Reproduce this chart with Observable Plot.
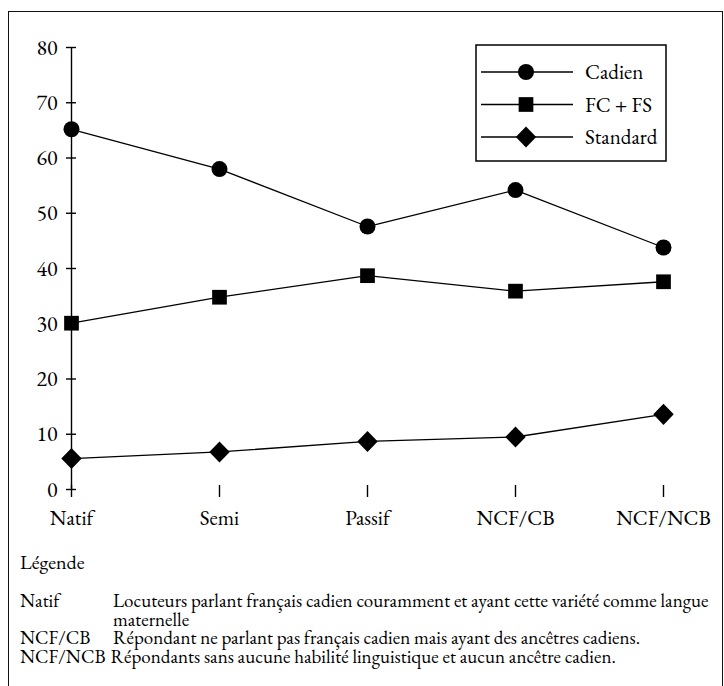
<!DOCTYPE html>
<html><head><meta charset="utf-8">
<script src="https://cdn.jsdelivr.net/npm/d3@7"></script>
<script src="https://cdn.jsdelivr.net/npm/@observablehq/plot@0.6"></script>
<style>
body{margin:0;background:#fff;}
#wrap{position:relative;width:724px;height:686px;overflow:hidden;font-family:"EB Garamond","Liberation Serif",serif;color:#000;background:#fff;font-variant-numeric:lining-nums;}
#frame{position:absolute;left:8px;top:11px;width:715px;height:700px;border:1.5px solid #111;box-sizing:border-box;}
#chart{position:absolute;left:0;top:0;}
#legend{position:absolute;left:475px;top:44px;}
svg text{font-variant-numeric:lining-nums tabular-nums;}
.note{position:absolute;white-space:nowrap;font-size:19px;line-height:18.7px;}
</style>
</head><body>
<div id="wrap">
  <div id="frame"></div>
  <div id="chart"></div>
  <div id="legend"></div>
  <div id="notes"></div>
</div>
<script>
// ---- data ----
const categories = ["Natif", "Semi", "Passif", "NCF/CB", "NCF/NCB"];
const seriesNames = ["Cadien", "FC + FS", "Standard"];
const cadien   = [65.2, 58.0, 47.6, 54.2, 43.8];
const fcfs     = [30.1, 34.8, 38.7, 35.9, 37.6];
const standard = [5.6, 6.8, 8.7, 9.5, 13.6];
const yTicks = [0, 10, 20, 30, 40, 50, 60, 70, 80];
const noteTitle = "Légende";
const noteLabels = ["Natif", "", "NCF/CB", "NCF/NCB"];
const noteTexts = [
  "Locuteurs parlant français cadien couramment et ayant cette variété comme langue",
  "maternelle",
  "Répondant ne parlant pas français cadien mais ayant des ancêtres cadiens.",
  "Répondants sans aucune habilité linguistique et aucun ancêtre cadien."
];

const seriesValues = [cadien, fcfs, standard];
const rows = seriesValues.flatMap((vals, s) =>
  vals.map((v, i) => ({series: seriesNames[s], cat: categories[i], value: v})));

const diamond = {
  draw(context, size) {
    const h = Math.sqrt(size / 2);
    const w = h * 0.97;
    context.moveTo(0, -h); context.lineTo(w, 0); context.lineTo(0, h); context.lineTo(-w, 0); context.closePath();
  }
};
const symbols = [d3.symbolCircle, d3.symbolSquare, diamond];
const radii = [8, 8.3, 8.4];

const font = '"EB Garamond","Liberation Serif",serif';

const chart = Plot.plot({
  width: 724,
  height: 545,
  marginLeft: 71,
  marginRight: 61,
  marginTop: 47,
  marginBottom: 56,
  x: {type: "point", domain: categories, padding: 0},
  y: {domain: [0, 80]},
  style: {fontFamily: font, fontSize: "21px", color: "#000", background: "transparent"},
  marks: [
    Plot.ruleY([0], {x1: categories[0], x2: categories[categories.length - 1], strokeWidth: 1.4}),
    Plot.ruleX([categories[0]], {y1: 0, y2: 80, strokeWidth: 1.4}),
    Plot.axisY({ticks: yTicks, tickSize: 10, dx: 5, tickPadding: 9, fontSize: 22, label: null, strokeWidth: 1.4, tickFormat: d => String(d)}),
    Plot.axisX({tickSize: 12, dy: -4, tickPadding: 13, fontSize: 21, label: null, strokeWidth: 1.4}),
    Plot.line(rows, {x: "cat", y: "value", z: "series", stroke: "#000", strokeWidth: 1.3}),
    ...seriesNames.map((name, s) =>
      Plot.dot(rows.filter(d => d.series === name), {x: "cat", y: "value", symbol: symbols[s], r: radii[s], fill: "#000", stroke: "none"}))
  ]
});
document.getElementById("chart").appendChild(chart);

// ---- legend box ----
const lw = 192, lh = 118;
const lsvg = d3.select("#legend").append("svg").attr("width", lw).attr("height", lh);
lsvg.append("rect").attr("x", 1).attr("y", 1).attr("width", lw - 2).attr("height", lh - 2)
  .attr("fill", "#fff").attr("stroke", "#000").attr("stroke-width", 1.5);
seriesNames.forEach((name, s) => {
  const y = 28 + s * 32.5;
  lsvg.append("line").attr("x1", 6).attr("x2", 98).attr("y1", y).attr("y2", y).attr("stroke", "#000").attr("stroke-width", 1.3);
  lsvg.append("path").attr("transform", `translate(51,${y})`)
    .attr("d", d3.symbol(symbols[s], Math.PI * radii[s] * radii[s])());
  lsvg.append("text").attr("x", 110).attr("y", y).attr("dy", "0.35em")
    .attr("font-family", font).attr("font-size", 21).text(name);
});

// ---- notes ----
const notes = document.getElementById("notes");
const t = document.createElement("div");
t.className = "note"; t.style.left = "20px"; t.style.top = "553px"; t.style.fontSize = "20px";
t.textContent = noteTitle; notes.appendChild(t);
noteTexts.forEach((txt, i) => {
  const top = 592 + i * 18.7;
  const row = document.createElement("div");
  row.className = "note"; row.style.left = "20px"; row.style.top = top + "px";
  const a = document.createElement("span");
  a.textContent = noteLabels[i];
  a.style.display = "inline-block";
  a.style.minWidth = "93px";
  if (noteLabels[i].length > 6) { a.style.minWidth = "0"; a.style.marginRight = "5px"; }
  const b = document.createElement("span");
  b.textContent = txt;
  row.appendChild(a); row.appendChild(b);
  notes.appendChild(row);
});
</script>
</body></html>
